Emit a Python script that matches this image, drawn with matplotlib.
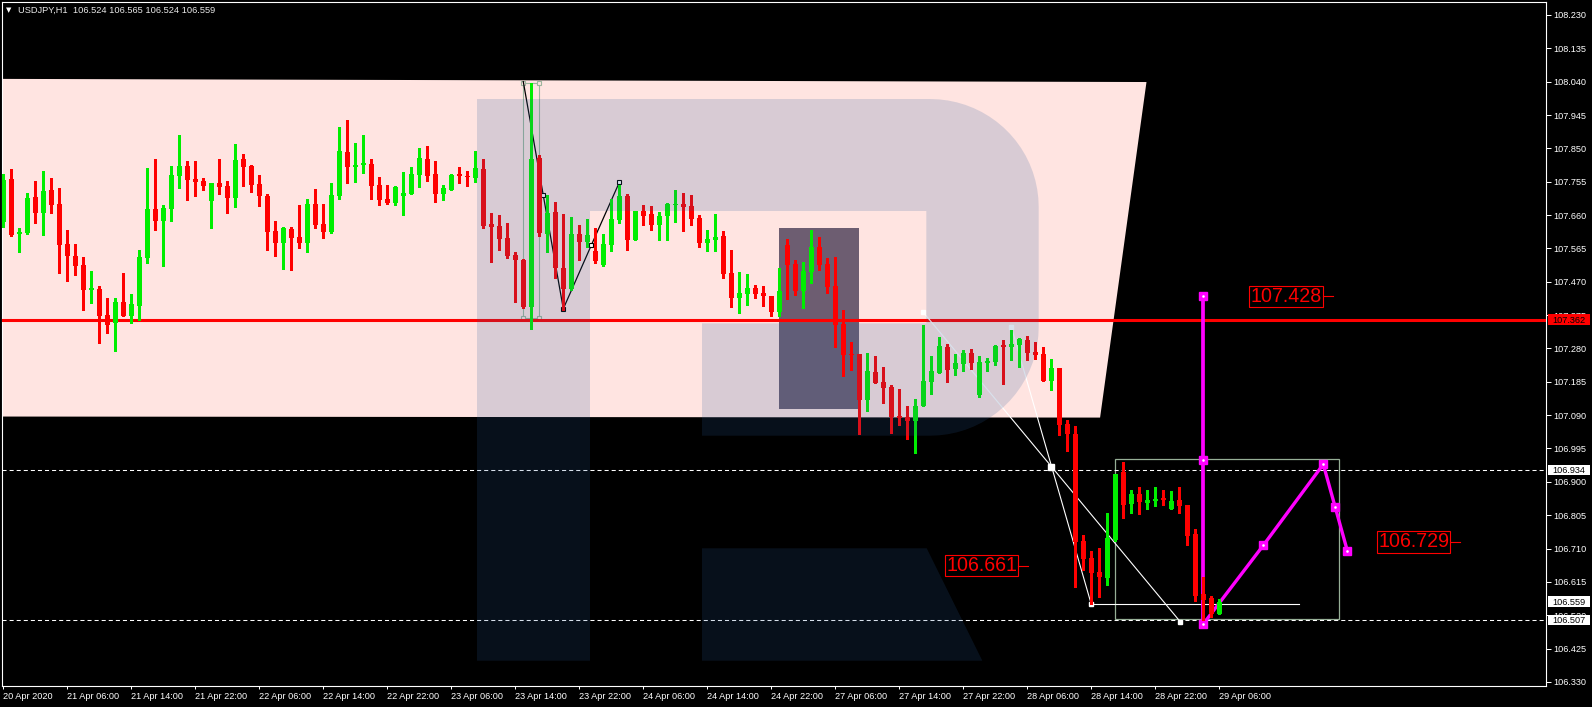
import numpy as np
import matplotlib
matplotlib.use("Agg")
import matplotlib.pyplot as plt
from matplotlib.patches import Rectangle, Polygon
from matplotlib import transforms, font_manager

# ------ candles (USDJPY H1, bar 0 = 20 Apr 22:00) --------
opens = [
    107.641, 107.763, 107.607, 107.609, 107.712, 107.667, 107.732, 107.692, 107.578, 107.544,
    107.518, 107.447, 107.449, 107.375, 107.352, 107.412, 107.373, 107.402, 107.539, 107.677,
    107.644, 107.678, 107.772, 107.800, 107.763, 107.757, 107.701, 107.751, 107.743, 107.710,
    107.820, 107.800, 107.749, 107.714, 107.615, 107.579, 107.620, 107.598, 107.579, 107.692,
    107.635, 107.613, 107.715, 107.840, 107.798, 107.802, 107.806, 107.746, 107.706, 107.695,
    107.715, 107.721, 107.775, 107.820, 107.777, 107.721, 107.732, 107.777, 107.771, 107.767,
    107.791, 107.635, 107.629, 107.595, 107.546, 107.532, 107.399, 107.823, 107.607, 107.669,
    107.509, 107.448, 107.606, 107.584, 107.558, 107.519, 107.576, 107.646, 107.714, 107.590,
    107.672, 107.663, 107.633, 107.656, 107.689, 107.692, 107.686, 107.652, 107.579, 107.590,
    107.600, 107.495, 107.425, 107.436, 107.452, 107.438, 107.429, 107.385, 107.575, 107.521,
    107.445, 107.499, 107.569, 107.521, 107.458, 107.350, 107.265, 107.264, 107.134, 107.213,
    107.184, 107.170, 107.087, 107.085, 107.074, 107.117, 107.185, 107.211, 107.284, 107.222,
    107.237, 107.267, 107.148, 107.239, 107.241, 107.290, 107.285, 107.291, 107.304, 107.270,
    107.264, 107.188, 107.224, 107.065, 107.036, 106.731, 106.684, 106.644, 106.627, 106.735,
    106.929, 106.838, 106.865, 106.840, 106.846, 106.854, 106.823, 106.848, 106.834, 106.751,
    106.581, 106.570, 106.524]
highs = [
    107.777, 107.791, 107.623, 107.723, 107.757, 107.786, 107.766, 107.737, 107.618, 107.578,
    107.541, 107.501, 107.458, 107.424, 107.424, 107.495, 107.435, 107.561, 107.794, 107.820,
    107.689, 107.800, 107.888, 107.814, 107.814, 107.766, 107.751, 107.820, 107.757, 107.863,
    107.834, 107.803, 107.774, 107.720, 107.644, 107.626, 107.626, 107.689, 107.707, 107.734,
    107.692, 107.751, 107.911, 107.931, 107.865, 107.888, 107.820, 107.769, 107.746, 107.743,
    107.783, 107.797, 107.851, 107.857, 107.814, 107.746, 107.777, 107.797, 107.786, 107.843,
    107.820, 107.666, 107.660, 107.637, 107.555, 107.535, 108.036, 107.830, 107.717, 107.697,
    107.663, 107.655, 107.632, 107.649, 107.623, 107.606, 107.706, 107.746, 107.720, 107.672,
    107.689, 107.686, 107.669, 107.694, 107.732, 107.723, 107.717, 107.660, 107.618, 107.663,
    107.615, 107.561, 107.498, 107.492, 107.461, 107.458, 107.429, 107.509, 107.591, 107.532,
    107.526, 107.617, 107.598, 107.538, 107.541, 107.390, 107.298, 107.264, 107.267, 107.258,
    107.227, 107.176, 107.164, 107.116, 107.136, 107.347, 107.258, 107.313, 107.293, 107.264,
    107.276, 107.278, 107.258, 107.253, 107.290, 107.304, 107.332, 107.310, 107.315, 107.298,
    107.284, 107.250, 107.224, 107.076, 107.059, 106.748, 106.704, 106.712, 106.810, 106.923,
    106.957, 106.877, 106.885, 106.877, 106.885, 106.877, 106.874, 106.885, 106.834, 106.765,
    106.629, 106.575, 106.565]
lows = [
    107.627, 107.599, 107.556, 107.606, 107.638, 107.604, 107.667, 107.496, 107.473, 107.490,
    107.390, 107.410, 107.296, 107.325, 107.274, 107.373, 107.353, 107.361, 107.524, 107.618,
    107.516, 107.644, 107.737, 107.704, 107.714, 107.730, 107.624, 107.721, 107.667, 107.684,
    107.744, 107.727, 107.687, 107.561, 107.542, 107.507, 107.504, 107.567, 107.556, 107.624,
    107.596, 107.610, 107.707, 107.752, 107.755, 107.781, 107.707, 107.690, 107.692, 107.690,
    107.661, 107.721, 107.741, 107.758, 107.698, 107.704, 107.732, 107.750, 107.744, 107.755,
    107.624, 107.527, 107.561, 107.539, 107.413, 107.396, 107.336, 107.600, 107.556, 107.482,
    107.390, 107.446, 107.532, 107.570, 107.523, 107.516, 107.559, 107.637, 107.561, 107.588,
    107.633, 107.618, 107.590, 107.590, 107.641, 107.616, 107.633, 107.570, 107.559, 107.559,
    107.482, 107.399, 107.382, 107.405, 107.425, 107.402, 107.371, 107.371, 107.422, 107.433,
    107.396, 107.467, 107.504, 107.439, 107.285, 107.202, 107.219, 107.037, 107.103, 107.182,
    107.125, 107.040, 107.063, 107.023, 106.983, 107.117, 107.151, 107.211, 107.185, 107.205,
    107.217, 107.222, 107.143, 107.217, 107.234, 107.180, 107.248, 107.228, 107.248, 107.251,
    107.188, 107.162, 107.034, 106.989, 106.601, 106.649, 106.551, 106.573, 106.607, 106.732,
    106.798, 106.810, 106.809, 106.823, 106.832, 106.835, 106.823, 106.812, 106.721, 106.561,
    106.507, 106.516, 106.524]
closes = [
    107.760, 107.604, 107.612, 107.709, 107.667, 107.729, 107.690, 107.576, 107.542, 107.516,
    107.447, 107.452, 107.373, 107.348, 107.412, 107.373, 107.407, 107.541, 107.677, 107.644,
    107.680, 107.774, 107.800, 107.761, 107.755, 107.744, 107.751, 107.741, 107.710, 107.817,
    107.798, 107.747, 107.713, 107.613, 107.579, 107.623, 107.596, 107.581, 107.692, 107.633,
    107.613, 107.717, 107.843, 107.798, 107.803, 107.807, 107.744, 107.704, 107.695, 107.740,
    107.723, 107.777, 107.823, 107.772, 107.721, 107.737, 107.774, 107.770, 107.769, 107.794,
    107.630, 107.627, 107.593, 107.544, 107.533, 107.399, 107.820, 107.610, 107.665, 107.510,
    107.450, 107.606, 107.583, 107.603, 107.529, 107.578, 107.649, 107.714, 107.590, 107.672,
    107.658, 107.633, 107.657, 107.692, 107.692, 107.684, 107.650, 107.579, 107.592, 107.598,
    107.493, 107.425, 107.438, 107.452, 107.436, 107.428, 107.385, 107.444, 107.519, 107.445,
    107.501, 107.569, 107.519, 107.456, 107.348, 107.262, 107.260, 107.134, 107.216, 107.182,
    107.168, 107.086, 107.083, 107.074, 107.116, 107.187, 107.216, 107.287, 107.219, 107.238,
    107.267, 107.239, 107.241, 107.244, 107.287, 107.285, 107.293, 107.307, 107.268, 107.262,
    107.188, 107.224, 107.063, 107.037, 106.729, 106.681, 106.641, 106.630, 106.741, 106.923,
    106.835, 106.865, 106.843, 106.848, 106.851, 106.849, 106.845, 106.832, 106.746, 106.575,
    106.564, 106.524, 106.559]

# ------ axes ticks --------
xtick_bars = [0, 8, 16, 24, 32, 40, 48, 56, 64, 72, 80, 88, 96,
              104, 112, 120, 128, 136, 144, 152]
xtick_labels = ['20 Apr 2020', '21 Apr 06:00', '21 Apr 14:00', '21 Apr 22:00',
                '22 Apr 06:00', '22 Apr 14:00', '22 Apr 22:00', '23 Apr 06:00',
                '23 Apr 14:00', '23 Apr 22:00', '24 Apr 06:00', '24 Apr 14:00',
                '24 Apr 22:00', '27 Apr 06:00', '27 Apr 14:00', '27 Apr 22:00',
                '28 Apr 06:00', '28 Apr 14:00', '28 Apr 22:00', '29 Apr 06:00']
ytick_values = [108.230, 108.135, 108.040, 107.945, 107.850, 107.755, 107.660,
                107.565, 107.470, 107.375, 107.280, 107.185, 107.090, 106.995,
                106.900, 106.805, 106.710, 106.615, 106.520, 106.425, 106.330]

# ------ levels and drawn objects --------
red_level = 107.362
dashed_levels = [106.934, 106.507]
bid_price = 106.559

pink_zone_bars = [-1, 142.9, 137.1, -1]
pink_zone_prices = [108.048, 108.039, 107.083, 107.086]
dark_box = [97, 107, 107.107, 107.623]        # bar from, bar to, low, high
grey_box = [65, 67, 107.366, 108.036]
green_box = [139, 167, 106.508, 106.964]

zigzag_bars = [65, 67.5, 70, 73.5, 77]
zigzag_prices = [108.040, 107.716, 107.393, 107.574, 107.753]

white_a_bars, white_a_prices = [115, 147.1], [107.383, 106.502]
white_b_bars, white_b_prices = [126, 136], [107.342, 106.551]
white_c_bars, white_c_prices = [136, 162], [106.551, 106.551]
white_cross = [131, 106.943]

magenta_bar = 150
magenta_vert_prices = [107.428, 106.962, 106.495]
magenta_path_bars = [150, 157.5, 165, 166.5, 168]
magenta_path_prices = [106.495, 106.719, 106.950, 106.827, 106.704]

label_texts = ['107.428', '106.661', '106.729']
label_bars = [164.8, 126.75, 180.75]
label_prices = [107.428, 106.661, 106.729]

header = 'USDJPY,H1  106.524 106.565 106.524 106.559'

BULL = '#00EE00'
BEAR = '#FF0000'


def pick_font(names):
    for n in names:
        try:
            font_manager.findfont(n, fallback_to_default=False)
            return n
        except ValueError:
            pass
    return 'DejaVu Sans'


plt.rcParams['font.family'] = pick_font(['Liberation Sans', 'DejaVu Sans'])
NARROW = pick_font(['Liberation Sans Narrow', 'DejaVu Sans Condensed', 'Liberation Sans'])

o_a, h_a, l_a, c_a = map(np.asarray, (opens, highs, lows, closes))


def draw_candles(ax, idx, z):
    idx = np.asarray(idx)
    o, h, l, c = o_a[idx], h_a[idx], l_a[idx], c_a[idx]
    cols = np.where(c >= o, BULL, BEAR)
    ax.vlines(idx, l, h, colors=cols, lw=0.8, zorder=z, antialiased=False)
    body = np.maximum(np.abs(c - o), 0.0026)
    ax.bar(idx, body, bottom=np.minimum(o, c), width=0.66, color=cols,
           linewidth=0, zorder=z + 0.1, antialiased=False)


def r_logo():
    # watermark outline in canvas pixels (y down)
    t1 = np.linspace(np.pi / 2, 0, 20)
    t2 = np.linspace(0, -np.pi / 2, 20)
    top_arc = np.c_[930 + 108.7 * np.cos(t1), 207 - 108 * np.sin(t1)]
    bot_arc = np.c_[930 + 108.7 * np.cos(t2), 327 - 108.7 * np.sin(t2)]
    bowl = np.vstack([[[477, 99]], top_arc, bot_arc,
                      [[702, 435.7], [702, 323.3], [926.3, 323.3], [926.3, 211],
                       [590, 211], [590, 660.7], [477, 660.7]]])
    leg = np.array([[702, 548.3], [926.7, 548.3], [982.3, 660.7], [702, 660.7]])
    return bowl, leg


fig = plt.figure(figsize=(15.92, 7.07), dpi=100, facecolor='black')
ax = fig.add_axes([2 / 1592, 21 / 707, 1544 / 1592, 684 / 707])
ax.set_facecolor('black')
ax.set_xlim(-0.1625, 192.84)
ax.set_ylim(106.3183, 108.267)

# background objects
ax.add_patch(Polygon(np.c_[pink_zone_bars, pink_zone_prices], closed=True,
                     fc='#FFE4E1', ec='none', zorder=1))
ax.add_patch(Rectangle((dark_box[0], dark_box[2]), dark_box[1] - dark_box[0],
                       dark_box[3] - dark_box[2], fc=(20 / 255, 10 / 255, 45 / 255),
                       alpha=0.62, ec='none', zorder=2))
ax.add_patch(Rectangle((grey_box[0], grey_box[2]), grey_box[1] - grey_box[0],
                       grey_box[3] - grey_box[2], fill=False, ec='#9DB59D',
                       lw=0.8, zorder=2.5))
ax.plot([grey_box[0], grey_box[1], grey_box[0], grey_box[1]],
        [grey_box[2], grey_box[2], grey_box[3], grey_box[3]], 's', ms=3.2,
        mfc='#FFE4E1', mec='#9DB59D', mew=0.8, zorder=2.6)
ax.add_patch(Rectangle((green_box[0], green_box[2]), green_box[1] - green_box[0],
                       green_box[3] - green_box[2], fill=False, ec='#96AF96',
                       lw=0.9, zorder=2.5))

# levels
ax.axhline(red_level, color='#FF0000', lw=2.2, zorder=3)
for p in dashed_levels:
    ax.axhline(p, color='white', lw=0.75, ls=(0, (3.9, 2.9)), zorder=3)

# analysis lines
ax.plot(zigzag_bars, zigzag_prices, color='black', lw=0.9, zorder=3.5)
ax.plot(zigzag_bars[1:], zigzag_prices[1:], 's', ms=3.2, mfc='white', mec='black',
        mew=0.8, zorder=3.6)
for bx, py in ((white_a_bars, white_a_prices), (white_b_bars, white_b_prices),
               (white_c_bars, white_c_prices)):
    ax.plot(bx, py, color='white', lw=0.8, zorder=3.5)
ax.plot([white_a_bars[0], white_a_bars[1], white_b_bars[0], white_b_bars[1]],
        [white_a_prices[0], white_a_prices[1], white_b_prices[0], white_b_prices[1]],
        's', ms=3.4, color='white', zorder=3.6)
ax.plot(*white_cross, 's', ms=4, color='white', zorder=3.6)

# magenta projection
ax.plot([magenta_bar, magenta_bar], [magenta_vert_prices[0], magenta_vert_prices[-1]],
        color='#FF00FF', lw=2.7, zorder=3.7)
ax.plot(magenta_path_bars, magenta_path_prices, color='#FF00FF', lw=2.4, zorder=3.7)
mk_b = [magenta_bar] * 3 + magenta_path_bars[1:]
mk_p = magenta_vert_prices + magenta_path_prices[1:]
ax.plot(mk_b, mk_p, 's', ms=5.2, color='#FF00FF', zorder=3.8)
ax.plot(mk_b, mk_p, 's', ms=0.8, color='white', zorder=3.9)

# candles
draw_candles(ax, range(len(opens)), 4)

# watermark over the chart
pix = transforms.Affine2D().scale(1 / 1592, -1 / 707).translate(0, 1) + fig.transFigure
for shape in r_logo():
    ax.add_patch(Polygon(shape, closed=True, transform=pix, fc=(44 / 255, 94 / 255, 155 / 255),
                         alpha=0.18, ec='none', zorder=5))
# candles inside the dark box stay on top
draw_candles(ax, range(98, 107), 6)

# price labels with frame, font size fitted to the narrow label width
renderer = fig.canvas.get_renderer()
for txt, bx, p in zip(label_texts, label_bars, label_prices):
    t = ax.text(bx, p, txt, ha='right', va='center', color='#FF0000', family=NARROW,
                fontsize=18, fontstretch='condensed', zorder=8,
                bbox=dict(boxstyle='square,pad=0.06', fc='none', ec='#FF0000', lw=0.8))
    w = t.get_window_extent(renderer).width
    t.set_fontsize(18 * 71.0 / w)
    ax.plot([bx + 0.15, bx + 1.4], [p, p], color='#FF0000', lw=0.8, zorder=8)

# header
ax.text(0.0026, 0.9876, '\u25BC', transform=ax.transAxes, color='white', fontsize=5,
        va='center', family='DejaVu Sans', zorder=9)
ax.text(0.01056, 0.9876, header, transform=ax.transAxes, color='#E8E8E8',
        fontsize=6.7, va='center', zorder=9)

# axes
for s in ax.spines.values():
    s.set_color('white')
    s.set_linewidth(0.8)
ax.yaxis.tick_right()
ax.set_yticks(ytick_values, labels=[f'{v:.3f}' for v in ytick_values])
ax.set_xticks(xtick_bars, labels=xtick_labels, ha='left')
ax.tick_params(axis='y', colors='white', length=3.6, width=0.72, pad=1.4, labelsize=6.6)
ax.tick_params(axis='x', colors='white', length=2.4, width=0.72, pad=1.6, labelsize=6.6)

# right-axis boxes
bl = transforms.blended_transform_factory(ax.transAxes, ax.transData)
for p, fc in ((red_level, '#FF0000'), (dashed_levels[0], 'white'),
              (bid_price, 'white'), (dashed_levels[1], 'white')):
    ax.add_patch(Rectangle((1.0013, p - 0.0147), 0.0269, 0.0294, transform=bl,
                           fc=fc, ec='none', clip_on=False, zorder=9))
    ax.text(1.0043, p, f'{p:.3f}', transform=bl, color='black', fontsize=6.6,
            va='center_baseline', ha='left', clip_on=False, zorder=10)

fig.savefig('out.png', dpi=100, facecolor='black')
